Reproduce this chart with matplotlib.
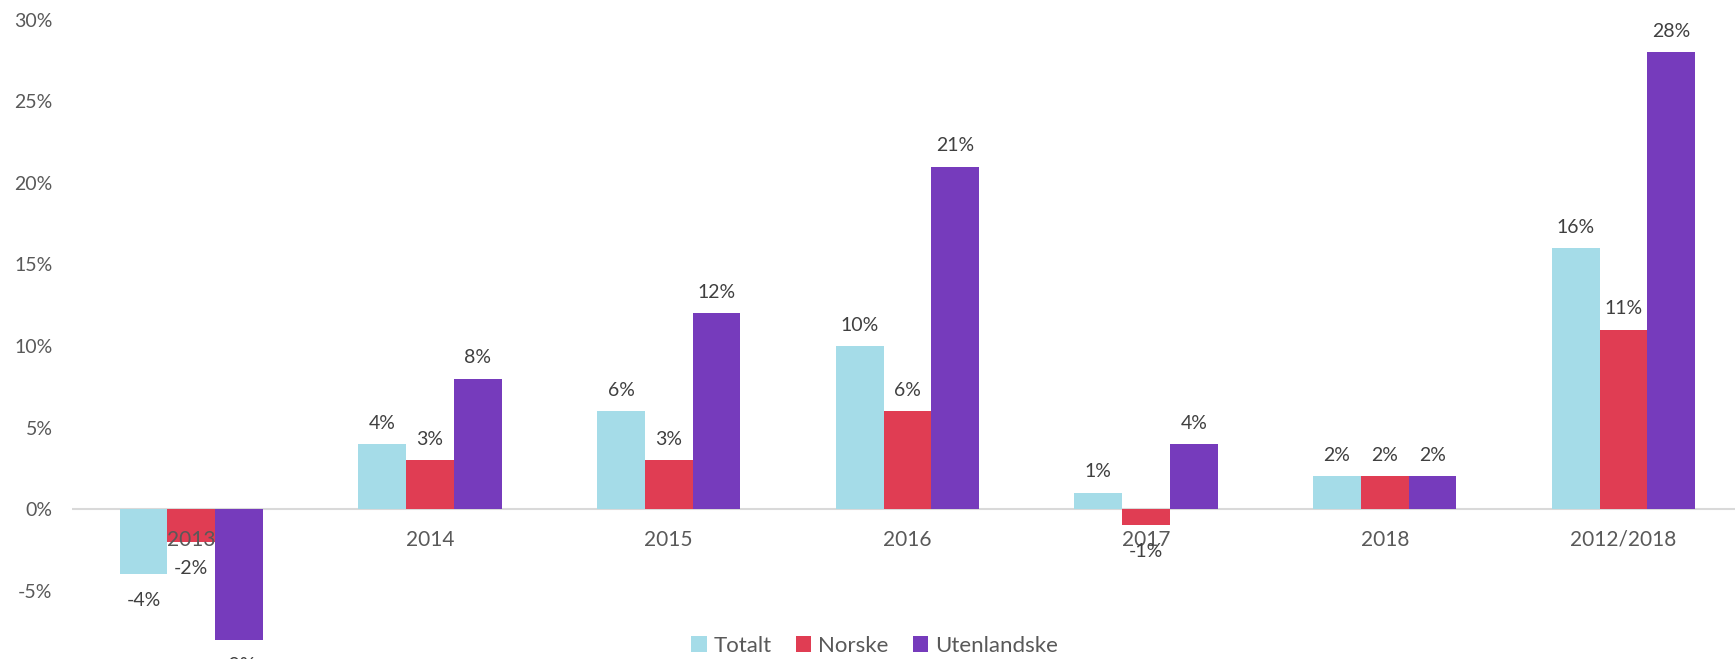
import matplotlib.pyplot as plt
import numpy as np

categories = ["2013", "2014", "2015", "2016", "2017", "2018", "2012/2018"]
totalt = [-4, 4, 6, 10, 1, 2, 16]
norske = [-2, 3, 3, 6, -1, 2, 11]
utenlandske = [-8, 8, 12, 21, 4, 2, 28]
series_names = ["Totalt", "Norske", "Utenlandske"]
colors = ["#A5DCE8", "#E03D53", "#763BBC"]

plt.rcParams['font.family'] = ['Lato', 'DejaVu Sans']

fig = plt.figure(figsize=(17.35, 6.59), dpi=100)
ax = fig.add_axes([0.0415, -0.020, 0.963, 0.990])
ax.set_axisbelow(False)  # category labels drawn over the bars

x = np.arange(len(categories))
w = 0.2
data = [totalt, norske, utenlandske]
for i, (vals, name, c) in enumerate(zip(data, series_names, colors)):
    bars = ax.bar(x + (i - 1) * w, vals, width=w, color=c, label=name, zorder=2)
    for b, v in zip(bars, vals):
        off = 15 if v >= 0 else -19
        ax.annotate(f"{v}%", (b.get_x() + b.get_width() / 2, v),
                    xytext=(0, off), textcoords="offset points",
                    ha="center", va="center", fontsize=14, color="#404040")

ax.set_xlim(-0.5, 6.5)
ax.set_ylim(-10, 30)
ax.set_yticks(range(-5, 31, 5))
ax.set_yticklabels([f"{t}%" for t in range(-5, 31, 5)])
ax.axhline(0, color="#D9D9D9", lw=1.5, zorder=1)

# category labels sit just under the zero line
ax.spines['bottom'].set_position(('data', 0))
for s in ax.spines.values():
    s.set_visible(False)
ax.set_xticks(x)
ax.set_xticklabels(categories)
ax.tick_params(axis="x", length=0, pad=15, labelsize=15, labelcolor="#595959")
ax.tick_params(axis="y", length=0, pad=14, labelsize=14, labelcolor="#595959")

fig.legend(loc="center", bbox_to_anchor=(0.504, 0.020), ncol=3, frameon=False,
           fontsize=16, handlelength=0.7, handleheight=0.7, handletextpad=0.3,
           columnspacing=1.1, labelcolor="#595959")

fig.savefig("out.png", dpi=100)
